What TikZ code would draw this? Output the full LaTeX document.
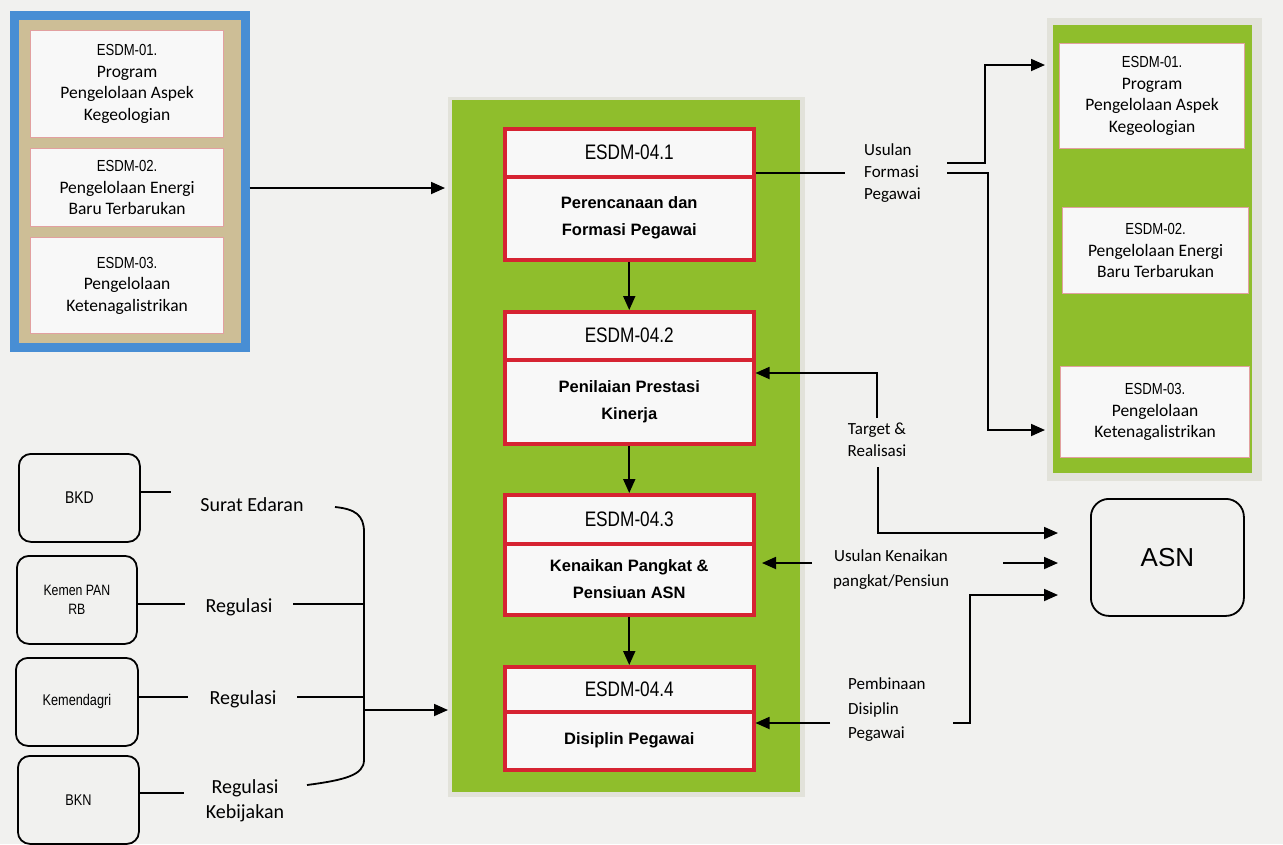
\documentclass[tikz,border=0pt]{standalone}
\usepackage{fontspec}
\setmainfont{Carlito}
\newfontfamily\arialn[FakeStretch=0.82]{Liberation Sans}
\newfontfamily\arial{Liberation Sans}
\usetikzlibrary{arrows.meta,calc}
\definecolor{bgc}{RGB}{241,241,239}
\definecolor{greenc}{RGB}{143,190,44}
\definecolor{shadowc}{RGB}{226,226,218}
\definecolor{redc}{RGB}{214,35,50}
\definecolor{tanc}{RGB}{205,190,150}
\definecolor{bluec}{RGB}{72,142,212}
\definecolor{pinkc}{RGB}{226,160,160}
\definecolor{boxw}{RGB}{248,248,248}
\tikzset{
 arr/.style={line width=1.8pt, -{Triangle[length=14pt,width=12pt]}},
 ln/.style={line width=1.8pt},
 redpart/.style={draw=redc, line width=3.5pt, fill=boxw, minimum width=249pt, anchor=north west, inner sep=0pt, align=center},
 redhead/.style={redpart, font=\arialn\fontsize{21}{24}\selectfont},
 redbody/.style={redpart, font=\arial\bfseries\fontsize{16.5}{27}\selectfont},
 whitebox/.style={draw=pinkc, line width=1.2pt, fill=boxw, anchor=north west, inner sep=0pt, align=center, font=\fontsize{17.5}{21.5}\selectfont},
 srcbox/.style={draw=black, line width=1.8pt, rounded corners=12pt, fill=bgc, anchor=north west, inner sep=0pt, align=center},
 lbl/.style={inner sep=0pt, align=center, font=\fontsize{17}{22}\selectfont},
 biglbl/.style={inner sep=0pt, align=center, font=\fontsize{20}{25}\selectfont},
}
\newcommand{\esdm}[1]{{\arialn\fontsize{16}{21.5}\selectfont #1}}
\begin{document}
\begin{tikzpicture}[x=1pt,y=-1pt]
\fill[bgc] (0,0) rectangle (1283,844);
\useasboundingbox (0,0) rectangle (1283,844);

% left source box
\node[draw=bluec, line width=9pt, fill=tanc, anchor=north west, minimum width=231pt, minimum height=332pt, inner sep=0pt] (lbox) at (9.5,10.5) {};
\node[whitebox, minimum width=193pt, minimum height=107pt] (l1) at (30,30) {\esdm{ESDM-01.}\\Program\\Pengelolaan Aspek\\Kegeologian};
\node[whitebox, minimum width=193pt, minimum height=78pt] (l2) at (30,148) {\esdm{ESDM-02.}\\Pengelolaan Energi\\Baru Terbarukan};
\node[whitebox, minimum width=193pt, minimum height=96pt] (l3) at (30,237) {\esdm{ESDM-03.}\\Pengelolaan\\Ketenagalistrikan};

% centre green box
\fill[shadowc] (448,97) rectangle (805,797);
\node[fill=greenc, anchor=north west, minimum width=348pt, minimum height=692pt, inner sep=0pt] (gbox) at (452,100) {};

\node[redhead, minimum height=48pt] (b1h) at (503,127) {ESDM-04.1};
\node[redbody, minimum height=83pt] (b1b) at (503,175) {Perencanaan dan\\Formasi Pegawai};
\node[redhead, minimum height=48pt] (b2h) at (503,310) {ESDM-04.2};
\node[redbody, minimum height=84pt] (b2b) at (503,358) {Penilaian Prestasi\\Kinerja};
\node[redhead, minimum height=49pt] (b3h) at (503,493) {ESDM-04.3};
\node[redbody, minimum height=71pt] (b3b) at (503,542) {Kenaikan Pangkat \&\\Pensiuan ASN};
\node[redhead, minimum height=45pt] (b4h) at (503,665) {ESDM-04.4};
\node[redbody, minimum height=58pt] (b4b) at (503,710) {Disiplin Pegawai};

\draw[arr] (b1b.south) -- (b2h.north);
\draw[arr] (b2b.south) -- (b3h.north);
\draw[arr] (b3b.south) -- (b4h.north);

% right green box
\fill[shadowc] (1047,18) rectangle (1262,481);
\node[fill=greenc, anchor=north west, minimum width=199pt, minimum height=448pt, inner sep=0pt] (rbox) at (1053,25) {};
\node[whitebox, minimum width=185pt, minimum height=105pt] (r1) at (1059,43) {\esdm{ESDM-01.}\\Program\\Pengelolaan Aspek\\Kegeologian};
\node[whitebox, minimum width=186pt, minimum height=86pt] (r2) at (1062,207) {\esdm{ESDM-02.}\\Pengelolaan Energi\\Baru Terbarukan};
\node[whitebox, minimum width=189pt, minimum height=91pt] (r3) at (1060,366) {\esdm{ESDM-03.}\\Pengelolaan\\Ketenagalistrikan};

% ASN
\node[draw=black, line width=1.8pt, rounded corners=18pt, fill=bgc, anchor=north west, minimum width=153pt, minimum height=117pt, inner sep=0pt, font=\arial\fontsize{26}{30}\selectfont] (asn) at (1090,498) {ASN};

% input from left box
\coordinate (gin) at (445,188);
\draw[arr] (lbox.east |- gin) -- (gin);

% Usulan Formasi Pegawai
\node[lbl, anchor=west, align=left] (ufp) at (864,173) {Usulan\\Formasi\\Pegawai};
\coordinate (uf0) at (845,173);
\draw[ln] (b1h.south east |- uf0) -- (uf0);
\coordinate (ufA) at (947,163);
\coordinate (ufAc) at (985,163);
\coordinate (r1in) at (1045,65);
\draw[arr] (ufA) -- (ufAc) |- (r1in);
\coordinate (ufB) at (947,173);
\coordinate (ufBc) at (988,173);
\coordinate (r3in) at (1045,430);
\draw[arr] (ufB) -- (ufBc) |- (r3in);

% Target & Realisasi
\node[lbl] (tr) at (877,440) {Target \&\\Realisasi};
\coordinate (trA) at (877,418);
\draw[arr] (trA) |- (b2b.east |- 0,373);
\coordinate (trB) at (878,467);
\coordinate (asnA) at (1058,533);
\draw[arr] (trB) |- (asnA);

% Usulan Kenaikan
\node[lbl, font=\fontsize{17}{25}\selectfont] (uk) at (891,570) {Usulan Kenaikan\\pangkat/Pensiun};
\coordinate (ukA) at (812,563);
\coordinate (ukT) at (762,563);
\draw[arr] (ukA) -- (ukT);
\coordinate (ukB) at (1003,563);
\coordinate (asnB) at (1058,563);
\draw[arr] (ukB) -- (asnB);

% Pembinaan Disiplin Pegawai
\node[lbl, anchor=west, align=left, font=\fontsize{17}{24.5}\selectfont] (pdp) at (848,710) {Pembinaan\\Disiplin\\Pegawai};
\coordinate (pdA) at (830,723);
\draw[arr] (pdA) -- (b4b.east |- pdA);
\coordinate (pdB) at (953,723);
\coordinate (pdBc) at (970,723);
\coordinate (asnC) at (1058,595);
\draw[arr] (pdB) -- (pdBc) |- (asnC);

% bottom-left sources
\node[srcbox, minimum width=121pt, minimum height=88pt, font=\arialn\fontsize{17}{19}\selectfont] (bkd) at (18,453) {BKD};
\node[srcbox, minimum width=120pt, minimum height=88pt, font=\arialn\fontsize{15}{19}\selectfont] (kpr) at (16,555) {Kemen PAN\\RB};
\node[srcbox, minimum width=122pt, minimum height=88pt, font=\arialn\fontsize{15.5}{19}\selectfont] (kdg) at (15,657) {Kemendagri};
\node[srcbox, minimum width=121pt, minimum height=88pt, font=\arialn\fontsize{15.5}{19}\selectfont] (bkn) at (17,755) {BKN};

\node[biglbl] (se) at (252,505) {Surat Edaran};
\node[biglbl] (rg1) at (239,607) {Regulasi};
\node[biglbl] (rg2) at (243,699) {Regulasi};
\node[biglbl] (rg3) at (245,801) {Regulasi\\Kebijakan};

\coordinate (seL) at (171,492);
\draw[ln] (bkd.east |- seL) -- (seL);
\coordinate (rg1L) at (185,604);
\draw[ln] (kpr.east |- rg1L) -- (rg1L);
\coordinate (rg1R) at (293,604);
\coordinate (rg2L) at (188,697);
\draw[ln] (kdg.east |- rg2L) -- (rg2L);
\coordinate (rg2R) at (297,697);
\coordinate (rg3L) at (184,793);
\draw[ln] (bkn.east |- rg3L) -- (rg3L);

\coordinate (brT) at (335,507);
\coordinate (brB) at (307,785);
\coordinate (brX1) at (364,604);
\coordinate (brX2) at (364,697);
\draw[ln] (brT) .. controls (355,509) and (364,515) .. (364,532) -- (364,760) .. controls (364,775) and (345,780) .. (brB);
\draw[ln] (rg1R) -- (brX1);
\draw[ln] (rg2R) -- (brX2);
\coordinate (brM) at (364,710);
\coordinate (gin2) at (448,710);
\draw[arr] (brM) -- (gin2);
\end{tikzpicture}
\end{document}
